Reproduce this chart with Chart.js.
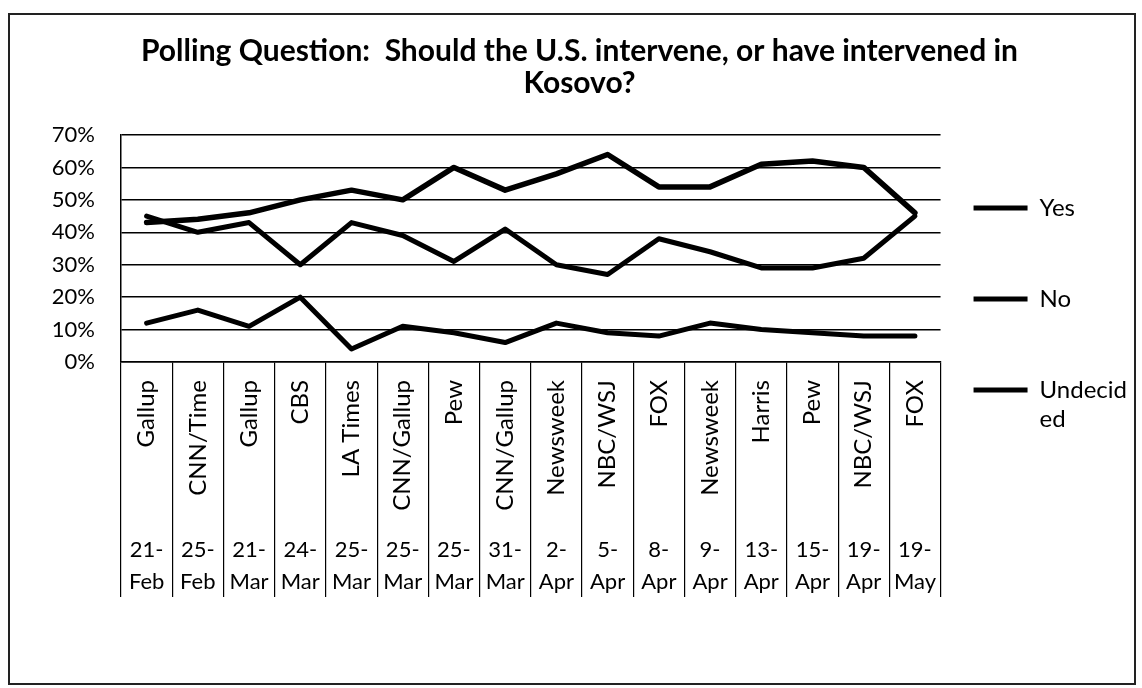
<!DOCTYPE html>
<html>
<head>
<meta charset="utf-8">
<script src="https://cdn.jsdelivr.net/npm/chart.js@4.4.1/dist/chart.umd.min.js"></script>
<style>
  html, body { margin: 0; padding: 0; background: #fff; }
  #wrap { position: relative; width: 1142px; height: 688px; }
  #frame { position: absolute; left: 8px; top: 13px; width: 1124px; height: 668px; border: 2px solid #222; pointer-events: none; }
  canvas { position: absolute; left: 0; top: 0; }
</style>
</head>
<body>
<div id="wrap">
  <canvas id="pollChart" width="1142" height="688"></canvas>
  <div id="frame"></div>
</div>
<script>
// poll data
var pollsters = ['Gallup', 'CNN/Time', 'Gallup', 'CBS', 'LA Times', 'CNN/Gallup', 'Pew', 'CNN/Gallup',
                 'Newsweek', 'NBC/WSJ', 'FOX', 'Newsweek', 'Harris', 'Pew', 'NBC/WSJ', 'FOX'];
var pollDays = ['21-', '25-', '21-', '24-', '25-', '25-', '25-', '31-', '2-', '5-', '8-', '9-', '13-', '15-', '19-', '19-'];
var pollMonths = ['Feb', 'Feb', 'Mar', 'Mar', 'Mar', 'Mar', 'Mar', 'Mar', 'Apr', 'Apr', 'Apr', 'Apr', 'Apr', 'Apr', 'Apr', 'May'];

var yesValues = [43, 44, 46, 50, 53, 50, 60, 53, 58, 64, 54, 54, 61, 62, 60, 46];
var noValues = [45, 40, 43, 30, 43, 39, 31, 41, 30, 27, 38, 34, 29, 29, 32, 45];
var undecidedValues = [12, 16, 11, 20, 4, 11, 9, 6, 12, 9, 8, 12, 10, 9, 8, 8];

var yTicks = [0, 10, 20, 30, 40, 50, 60, 70];
var seriesNames = ['Yes', 'No', 'Undecided'];
var legendText = [['Yes', ''], ['No', ''], ['Undecid', 'ed']];

var titleLines = ['Polling Question:  Should the U.S. intervene, or have intervened in', 'Kosovo?'];

var dateLabels = [];
for (var i = 0; i < pollDays.length; i++) {
    dateLabels.push([pollDays[i], pollMonths[i]]);
}

Chart.defaults.font.family = 'Lato';
Chart.defaults.color = '#000';

function lineSet(name, values, width) {
    return {
        label: name,
        data: values,
        borderColor: '#000',
        backgroundColor: '#000',
        borderWidth: width,
        pointRadius: 0,
        tension: 0,
        fill: false,
        borderJoinStyle: 'round',
        borderCapStyle: 'round'
    };
}

var ctx = document.getElementById('pollChart');
var pollChart = new Chart(ctx, {
    type: 'line',
    data: {
        labels: pollsters,
        datasets: [
            lineSet(seriesNames[0], yesValues, 5.5),
            lineSet(seriesNames[1], noValues, 5),
            lineSet(seriesNames[2], undecidedValues, 5)
        ]
    },
    options: {
        responsive: false,
        animation: false,
        layout: { padding: { left: 22, right: 5, top: 0, bottom: 91 } },
        plugins: {
            tooltip: { enabled: false },
            title: {
                display: true,
                text: titleLines,
                color: '#000',
                font: { size: 30, weight: 'bold', lineHeight: 32 / 30 },
                padding: { top: 35, bottom: 36 }
            },
            legend: {
                position: 'right',
                align: 'start',
                title: { display: true, text: '', font: { size: 10, lineHeight: 1.2 }, padding: { top: 0, bottom: 151 } },
                labels: {
                    boxWidth: 54,
                    boxHeight: 5,
                    padding: 33,
                    color: '#000',
                    font: { size: 24, lineHeight: 29 / 24 },
                    generateLabels: function(chart) {
                        var items = Chart.defaults.plugins.legend.labels.generateLabels(chart);
                        items.forEach(function(item, i) {
                            item.text = legendText[i];
                            item.fillStyle = '#000';
                            item.strokeStyle = '#000';
                            item.lineWidth = 0;
                        });
                        return items;
                    }
                }
            }
        },
        scales: {
            y: {
                min: yTicks[0],
                max: yTicks[yTicks.length - 1],
                afterFit: function(scale) { scale.width = 99; },
                ticks: {
                    stepSize: 10,
                    padding: 26,
                    font: { size: 22 },
                    color: '#000',
                    callback: function(v) { return v + '%'; }
                },
                grid: { color: '#000', lineWidth: 1.5, drawTicks: false },
                border: { color: '#000', width: 1.5 }
            },
            x: {
                type: 'category',
                offset: true,
                afterFit: function(scale) { scale.height = 170; },
                ticks: {
                    autoSkip: false,
                    minRotation: 90,
                    maxRotation: 90,
                    padding: 18 - 170,
                    font: { size: 24 },
                    color: '#000'
                },
                grid: { offset: true, drawOnChartArea: false, drawTicks: true, tickLength: 170, color: '#000', lineWidth: 1.2 },
                border: { color: '#000', width: 1.5 }
            },
            x2: {
                type: 'category',
                position: 'bottom',
                weight: 1,
                offset: true,
                labels: dateLabels,
                afterFit: function(scale) { scale.height = 65; },
                ticks: {
                    autoSkip: false,
                    minRotation: 0,
                    maxRotation: 0,
                    padding: -63,
                    font: { size: 22, lineHeight: 32 / 22 },
                    color: '#000'
                },
                grid: { offset: true, drawOnChartArea: false, drawTicks: true, tickLength: 65, color: '#000', lineWidth: 1.2 },
                border: { display: false }
            }
        }
    }
});
</script>
</body>
</html>
